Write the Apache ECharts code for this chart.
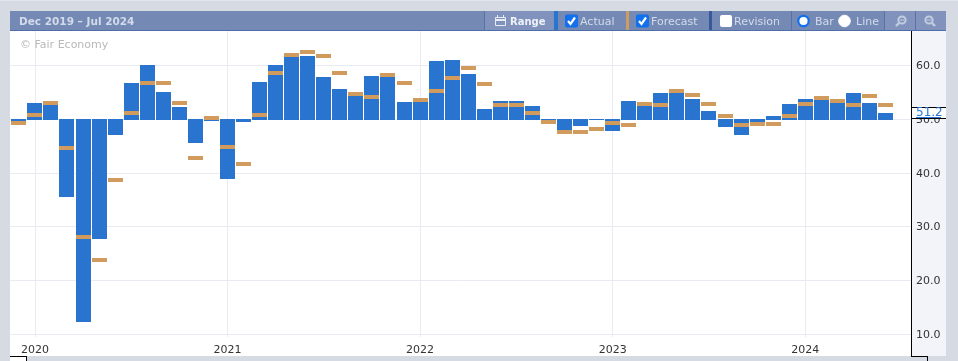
<!DOCTYPE html>
<html><head><meta charset="utf-8">
<style>html,body{margin:0;padding:0;background:#d6dae3;overflow:hidden}#c{width:958px;height:361px}</style>
<script src="https://cdn.jsdelivr.net/npm/echarts@6/dist/echarts.min.js"></script>
</head><body><div id="c"></div>
<script>
const months = ['2019-12','2020-01','2020-02','2020-03','2020-04','2020-05','2020-06','2020-07','2020-08','2020-09','2020-10','2020-11','2020-12',
'2021-01','2021-02','2021-03','2021-04','2021-05','2021-06','2021-07','2021-08','2021-09','2021-10','2021-11','2021-12',
'2022-01','2022-02','2022-03','2022-04','2022-05','2022-06','2022-07','2022-08','2022-09','2022-10','2022-11','2022-12',
'2023-01','2023-02','2023-03','2023-04','2023-05','2023-06','2023-07','2023-08','2023-09','2023-10','2023-11','2023-12',
'2024-01','2024-02','2024-03','2024-04','2024-05','2024-06'];
const actual = [49.4,53.0,52.8,35.6,12.2,27.6,47.0,56.8,60.1,55.1,52.3,45.6,49.7,
38.8,49.5,57.0,60.1,61.6,61.8,57.9,55.6,54.3,58.1,57.9,53.2,
53.2,60.9,61.1,58.4,51.9,53.4,53.4,52.5,49.8,47.5,48.8,49.9,
47.8,53.4,52.5,54.9,55.1,53.8,51.6,48.6,47.1,49.3,50.6,52.9,
53.8,53.8,53.1,54.9,53.0,51.2];
const forecast = [49.3,50.8,53.0,44.7,28.1,23.8,38.7,51.2,56.8,56.8,53.0,42.8,50.3,
44.8,41.7,50.8,58.6,62.0,62.5,61.8,58.6,54.7,54.2,58.3,56.8,
53.6,55.3,57.7,59.6,56.6,52.7,52.7,51.2,49.5,47.6,47.6,48.2,
49.3,48.9,52.9,52.7,55.3,54.5,52.9,50.6,48.9,49.1,49.1,50.6,
52.9,54.0,53.4,52.7,54.3,52.7];
const yTicks = [10,20,30,40,50,60];
const yearTicks = ['2020-01','2021-01','2022-01','2023-01','2024-01'];
const baseline = 50;
const rangeTitle = 'Dec 2019 \u2013 Jul 2024';

const FONT = '"DejaVu Sans", Verdana, sans-serif';
const BLUE = '#2874ce', ORANGE = '#d19b5e';
const HEAD = '#7589b5', BTN = '#8193bd', SEP = '#5a72a8', TXT = '#d3dbea';
const idx = m => months.indexOf(m);

const rect = (x, y, w, h, fill, z = 20, extra = {}) => ({type:'rect', silent:true, z, shape:{x, y, width:w, height:h, ...(extra.shape||{})}, style:{fill, ...(extra.style||{})}});
const text = (x, y, t, fill, o = {}) => ({type:'text', silent:true, z:o.z||22, x, y, style:{text:t, fill, font:(o.weight||'normal')+' '+(o.size||11)+'px '+FONT, textAlign:o.align||'left', textVerticalAlign:'middle', textBaseline:'middle'}});
const check = (x, y) => [
  rect(x, y, 13, 13, '#1070ee', 23, {shape:{r:2}}),
  {type:'polyline', silent:true, z:24, shape:{points:[[x+3,y+6.5],[x+5.5,y+9.5],[x+10,y+3]]}, style:{stroke:'#fff', lineWidth:2.2, fill:null}}
];
const radio = (cx, cy, on) => ({type:'circle', silent:true, z:23, shape:{cx, cy, r:on?5.2:5.8}, style:{fill:'#fff', stroke:on?'#1070ee':'#fff', lineWidth:on?2.2:1}});
const lens = (cx, cy, dir) => [
  {type:'circle', silent:true, z:23, shape:{cx, cy, r:3.6}, style:{fill:null, stroke:'#c3cde0', lineWidth:2}},
  {type:'line', silent:true, z:23, shape:{x1:cx+3*dir, y1:cy+3, x2:cx+6*dir, y2:cy+6}, style:{stroke:'#c3cde0', lineWidth:2.4}},
  {type:'line', silent:true, z:23, shape:{x1:cx-2, y1:cy, x2:cx+2, y2:cy}, style:{stroke:'#c3cde0', lineWidth:1}}
];

const graphics = [
  rect(10, 11, 936, 19, HEAD),
  rect(10, 30, 936, 1, '#4f6da8'),
  text(19, 22, rangeTitle, TXT, {weight:'bold', size:10.5}),
  rect(485, 11, 69, 19, BTN),
  rect(484, 11, 1, 19, SEP),
  rect(554, 11, 4, 19, BLUE),
  rect(626, 11, 3, 19, ORANGE),
  rect(709, 11, 3, 19, '#37589a'),
  rect(791, 11, 1, 19, SEP),
  rect(884, 11, 1, 19, SEP),
  rect(885, 11, 30, 19, BTN),
  rect(915, 11, 1, 19, SEP),
  rect(916, 11, 30, 19, BTN),
  rect(495.5, 17.5, 10, 8, 'none', 23, {style:{stroke:'#e6ebf4', lineWidth:1}}),
  rect(495, 19, 11, 2, '#e6ebf4', 23),
  rect(497, 15, 1, 3, '#e6ebf4', 23),
  rect(503, 15, 1, 3, '#e6ebf4', 23),
  text(510, 22, 'Range', '#eef2f8', {weight:'bold', size:10}),
  ...check(565, 14.5),
  text(580, 22, 'Actual', TXT),
  ...check(636, 14.5),
  text(651, 22, 'Forecast', TXT),
  rect(720, 15, 12, 12, '#fff', 23, {shape:{r:2}}),
  text(734, 22, 'Revision', TXT),
  radio(803.5, 21, true),
  text(815, 22, 'Bar', TXT),
  radio(844.5, 21, false),
  text(856, 22, 'Line', TXT),
  ...lens(902, 20, -1),
  ...lens(929, 20, 1),
  rect(912, 31, 34, 325, '#f3f4f9', 0),
  rect(911, 31, 1, 325, '#000', 15),
  rect(0, 356, 958, 5, '#d6dae3', 15),
  rect(10, 356, 17, 5, '#ffffff', 16),
  rect(10, 356, 17, 1, '#000', 17),
  rect(26, 356, 1, 5, '#000', 17),
  rect(911, 356, 17, 1, '#000', 17),
  rect(927, 356, 1, 5, '#000', 17),
  rect(0, 0, 958, 1, '#e4e6ec', 16),
  text(20, 45, '\u00a9 Fair Economy', '#b9b9b9', {size:11})
];

const chart = echarts.init(document.getElementById('c'), null, {renderer:'canvas'});
chart.setOption({
  animation:false,
  backgroundColor:'transparent',
  graphic:[{type:'rect', silent:true, z:-10, shape:{x:10, y:31, width:902, height:325}, style:{fill:'#fff'}}, ...graphics],
  grid:{left:10.5, right:47, top:31, bottom:24, containLabel:false},
  xAxis:{
    type:'value',
    min:-0.5202,
    max:55.586,
    axisLine:{show:false},
    axisTick:{show:false, customValues:yearTicks.map(idx)},
    splitLine:{show:true, lineStyle:{color:'#e9ebf2', width:1}},
    axisLabel:{
      show:true, customValues:yearTicks.map(idx), hideOverlap:false,
      margin:8, color:'#333', fontFamily:FONT, fontSize:11,
      formatter:v => months[v].slice(0,4)
    }
  },
  yAxis:{
    type:'value', position:'right', min:9.44, max:66.42,
    axisLine:{show:false},
    axisTick:{show:false, customValues:yTicks},
    splitLine:{show:true, lineStyle:{color:'#e9ebf2', width:1}},
    axisLabel:{customValues:yTicks, margin:5, verticalAlign:'top', lineHeight:2, color:'#333', fontFamily:FONT, fontSize:11, formatter:v => v.toFixed(1)}
  },
  series:[
    {type:'custom', name:'Actual', z:3, clip:false,
     data:months.map((m,i)=>[i, actual[i]]), encode:{x:0,y:1},
     renderItem:(p,api)=>{
       const a = api.coord([api.value(0), api.value(1)]);
       const b = api.coord([api.value(0), baseline]);
       const up = api.value(1) >= baseline;
       const top = up ? Math.round(a[1]) : Math.round(b[1]);
       const bot = up ? Math.round(b[1]) + 1 : Math.round(a[1]);
       return {type:'rect', shape:{x:Math.round(a[0]-7.5), y:top, width:15, height:Math.max(bot-top,1)}, style:{fill:BLUE}};
     }},
    {type:'custom', name:'Forecast', z:4, clip:false,
     data:months.map((m,i)=>[i, forecast[i]]), encode:{x:0,y:1},
     renderItem:(p,api)=>{
       const a = api.coord([api.value(0), api.value(1)]);
       return {type:'rect', shape:{x:Math.round(a[0]-7.5), y:Math.round(a[1]-2), width:15, height:4}, style:{fill:ORANGE}};
     }},
    {type:'custom', name:'Latest', z:10, clip:false, silent:true,
     data:[[actual.length-1, actual[actual.length-1]]], encode:{x:0,y:1},
     renderItem:(p,api)=>{
       const c = Math.round(api.coord([api.value(0), api.value(1)])[1]);
       return {type:'group', children:[
         {type:'rect', shape:{x:911,y:c-6,width:35,height:12}, style:{fill:'#fff'}},
         {type:'rect', shape:{x:911,y:c-6,width:35,height:1}, style:{fill:'#000'}},
         {type:'rect', shape:{x:911,y:c+5,width:35,height:1}, style:{fill:'#000'}},
         {type:'rect', shape:{x:916,y:c+4,width:25,height:1}, style:{fill:'#2a78d6'}},
         {type:'text', x:916, y:c, style:{text:api.value(1).toFixed(1), fill:'#2a78d6', font:'12px '+FONT, textAlign:'left', textVerticalAlign:'middle'}}
       ]};
     }}
  ]
});
</script></body></html>
